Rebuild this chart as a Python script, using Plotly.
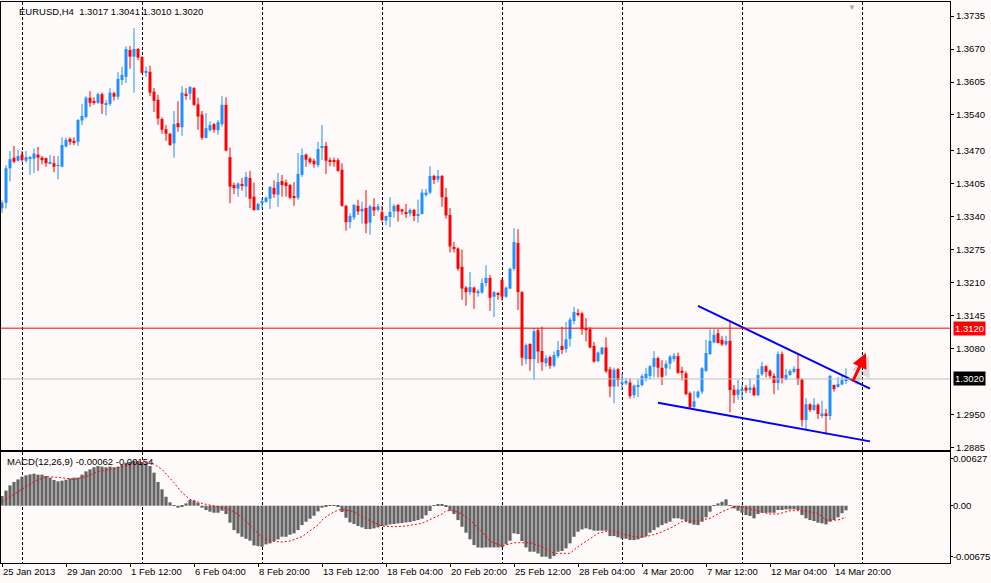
import plotly.graph_objects as go

# EURUSD H4 bars, 25 Jan 2013 04:00 .. 15 Mar 2013
open_ = [
    1.3356, 1.3367, 1.3435, 1.3456, 1.3450, 1.3462, 1.3450, 1.3454, 1.3454, 1.3462,
    1.3456, 1.3455, 1.3445, 1.3445, 1.3440, 1.3438, 1.3478, 1.3493, 1.3489, 1.3487,
    1.3529, 1.3536, 1.3574, 1.3566, 1.3564, 1.3581, 1.3561, 1.3562, 1.3583, 1.3576,
    1.3609, 1.3615, 1.3668, 1.3655, 1.3670, 1.3654, 1.3623, 1.3625, 1.3586, 1.3570,
    1.3532, 1.3512, 1.3503, 1.3484, 1.3524, 1.3516, 1.3582, 1.3582, 1.3593, 1.3561,
    1.3541, 1.3495, 1.3510, 1.3522, 1.3510, 1.3522, 1.3560, 1.3457, 1.3402, 1.3395,
    1.3404, 1.3399, 1.3416, 1.3379, 1.3353, 1.3367, 1.3369, 1.3375, 1.3396, 1.3383,
    1.3410, 1.3407, 1.3402, 1.3380, 1.3377, 1.3422, 1.3462, 1.3454, 1.3450, 1.3441,
    1.3475, 1.3479, 1.3451, 1.3451, 1.3451, 1.3432, 1.3361, 1.3329, 1.3338, 1.3361,
    1.3350, 1.3357, 1.3328, 1.3359, 1.3353, 1.3348, 1.3332, 1.3339, 1.3350, 1.3363,
    1.3354, 1.3349, 1.3346, 1.3353, 1.3341, 1.3345, 1.3384, 1.3387, 1.3420, 1.3413,
    1.3420, 1.3378, 1.3343, 1.3279, 1.3277, 1.3241, 1.3200, 1.3191, 1.3200, 1.3189,
    1.3190, 1.3209, 1.3219, 1.3182, 1.3189, 1.3215, 1.3182, 1.3198, 1.3237, 1.3288,
    1.3191, 1.3059, 1.3089, 1.3059, 1.3116, 1.3075, 1.3051, 1.3063, 1.3046, 1.3065,
    1.3085, 1.3079, 1.3099, 1.3134, 1.3149, 1.3149, 1.3120, 1.3118, 1.3085, 1.3055,
    1.3069, 1.3082, 1.3039, 1.3005, 1.3039, 1.3011, 1.3011, 1.3013, 1.2988, 1.3006,
    1.3008, 1.3021, 1.3026, 1.3044, 1.3061, 1.3042, 1.3041, 1.3050, 1.3059, 1.3065,
    1.3036, 1.3031, 1.2992, 1.2965, 1.2984, 1.2995, 1.3036, 1.3069, 1.3092, 1.3110,
    1.3097, 1.3088, 1.3095, 1.2999, 1.2989, 1.2997, 1.3003, 1.2998, 1.3003, 1.2988,
    1.3029, 1.3045, 1.3036, 1.3026, 1.3012, 1.3069, 1.3019, 1.3028, 1.3034, 1.3040,
    1.3019, 1.2939, 1.2970, 1.2959, 1.2969, 1.2947, 1.2952, 1.2947, 1.3008, 1.3004,
    1.3009, 1.3017,
]
high = [
    1.3372, 1.3441, 1.3469, 1.3479, 1.3471, 1.3469, 1.3469, 1.3459, 1.3474, 1.3477,
    1.3459, 1.3456, 1.3461, 1.3459, 1.3459, 1.3496, 1.3496, 1.3496, 1.3496, 1.3532,
    1.3562, 1.3577, 1.3587, 1.3575, 1.3584, 1.3584, 1.3570, 1.3593, 1.3586, 1.3625,
    1.3635, 1.3675, 1.3676, 1.3711, 1.3672, 1.3656, 1.3635, 1.3637, 1.3593, 1.3580,
    1.3535, 1.3520, 1.3505, 1.3548, 1.3567, 1.3597, 1.3593, 1.3597, 1.3595, 1.3574,
    1.3548, 1.3544, 1.3527, 1.3524, 1.3530, 1.3577, 1.3575, 1.3476, 1.3407, 1.3407,
    1.3416, 1.3428, 1.3430, 1.3407, 1.3367, 1.3376, 1.3379, 1.3400, 1.3411, 1.3426,
    1.3422, 1.3413, 1.3404, 1.3408, 1.3465, 1.3474, 1.3464, 1.3457, 1.3454, 1.3487,
    1.3520, 1.3487, 1.3456, 1.3456, 1.3455, 1.3445, 1.3363, 1.3346, 1.3364, 1.3373,
    1.3369, 1.3392, 1.3363, 1.3376, 1.3365, 1.3361, 1.3342, 1.3378, 1.3365, 1.3364,
    1.3355, 1.3365, 1.3356, 1.3355, 1.3373, 1.3394, 1.3394, 1.3439, 1.3422, 1.3432,
    1.3422, 1.3396, 1.3357, 1.3290, 1.3279, 1.3275, 1.3203, 1.3231, 1.3202, 1.3197,
    1.3218, 1.3244, 1.3225, 1.3193, 1.3191, 1.3218, 1.3202, 1.3239, 1.3317, 1.3315,
    1.3193, 1.3090, 1.3090, 1.3120, 1.3120, 1.3123, 1.3067, 1.3066, 1.3074, 1.3095,
    1.3123, 1.3132, 1.3141, 1.3162, 1.3158, 1.3152, 1.3140, 1.3122, 1.3093, 1.3074,
    1.3083, 1.3102, 1.3044, 1.3042, 1.3042, 1.3031, 1.3022, 1.3021, 1.3009, 1.3019,
    1.3029, 1.3042, 1.3047, 1.3075, 1.3064, 1.3057, 1.3056, 1.3067, 1.3071, 1.3072,
    1.3044, 1.3035, 1.2995, 1.2996, 1.2997, 1.3043, 1.3097, 1.3118, 1.3118, 1.3118,
    1.3105, 1.3105, 1.3136, 1.3008, 1.3018, 1.3008, 1.3008, 1.3021, 1.3009, 1.3040,
    1.3054, 1.3047, 1.3039, 1.3031, 1.3074, 1.3074, 1.3040, 1.3039, 1.3045, 1.3071,
    1.3021, 1.2982, 1.2972, 1.2982, 1.2972, 1.2977, 1.2961, 1.3028, 1.3009, 1.3024,
    1.3026, 1.3041,
]
low = [
    1.3347, 1.3356, 1.3409, 1.3445, 1.3448, 1.3448, 1.3446, 1.3422, 1.3426, 1.3430,
    1.3443, 1.3438, 1.3443, 1.3427, 1.3413, 1.3437, 1.3476, 1.3481, 1.3481, 1.3479,
    1.3520, 1.3533, 1.3556, 1.3560, 1.3562, 1.3542, 1.3539, 1.3558, 1.3568, 1.3570,
    1.3599, 1.3603, 1.3631, 1.3584, 1.3648, 1.3622, 1.3615, 1.3577, 1.3546, 1.3521,
    1.3503, 1.3489, 1.3479, 1.3456, 1.3507, 1.3499, 1.3570, 1.3570, 1.3558, 1.3511,
    1.3491, 1.3494, 1.3507, 1.3505, 1.3501, 1.3517, 1.3468, 1.3366, 1.3384, 1.3379,
    1.3391, 1.3378, 1.3357, 1.3351, 1.3352, 1.3356, 1.3367, 1.3355, 1.3377, 1.3359,
    1.3379, 1.3379, 1.3374, 1.3361, 1.3373, 1.3418, 1.3438, 1.3443, 1.3436, 1.3437,
    1.3451, 1.3424, 1.3439, 1.3438, 1.3428, 1.3359, 1.3312, 1.3317, 1.3333, 1.3343,
    1.3326, 1.3307, 1.3304, 1.3341, 1.3350, 1.3330, 1.3323, 1.3319, 1.3338, 1.3330,
    1.3344, 1.3337, 1.3340, 1.3331, 1.3328, 1.3344, 1.3379, 1.3384, 1.3404, 1.3407,
    1.3359, 1.3336, 1.3269, 1.3269, 1.3233, 1.3176, 1.3164, 1.3185, 1.3158, 1.3182,
    1.3188, 1.3202, 1.3154, 1.3142, 1.3176, 1.3174, 1.3180, 1.3197, 1.3233, 1.3156,
    1.3046, 1.3049, 1.3036, 1.3018, 1.3051, 1.3036, 1.3044, 1.3040, 1.3043, 1.3061,
    1.3069, 1.3072, 1.3084, 1.3128, 1.3143, 1.3107, 1.3094, 1.3080, 1.3052, 1.3053,
    1.3067, 1.3032, 1.2984, 1.2972, 1.3005, 1.2998, 1.3008, 1.2981, 1.2982, 1.2984,
    1.3005, 1.3015, 1.3019, 1.3023, 1.3023, 1.3008, 1.3026, 1.3039, 1.3054, 1.3030,
    1.3017, 1.2988, 1.2961, 1.2963, 1.2982, 1.2990, 1.3034, 1.3067, 1.3090, 1.3090,
    1.3085, 1.3085, 1.2954, 1.2972, 1.2979, 1.2979, 1.2992, 1.2992, 1.2986, 1.2986,
    1.3026, 1.3023, 1.3021, 1.2990, 1.2998, 1.3011, 1.3017, 1.3026, 1.3031, 1.3008,
    1.2926, 1.2919, 1.2955, 1.2957, 1.2941, 1.2943, 1.2910, 1.2939, 1.2995, 1.3003,
    1.3008, 1.3010,
]
close = [
    1.3367, 1.3435, 1.3453, 1.3448, 1.3459, 1.3451, 1.3457, 1.3456, 1.3464, 1.3456,
    1.3451, 1.3445, 1.3447, 1.3438, 1.3441, 1.3481, 1.3491, 1.3487, 1.3486, 1.3530,
    1.3538, 1.3574, 1.3564, 1.3564, 1.3581, 1.3562, 1.3562, 1.3584, 1.3576, 1.3611,
    1.3619, 1.3670, 1.3655, 1.3670, 1.3653, 1.3623, 1.3627, 1.3584, 1.3568, 1.3533,
    1.3511, 1.3503, 1.3481, 1.3522, 1.3516, 1.3584, 1.3579, 1.3595, 1.3560, 1.3537,
    1.3495, 1.3514, 1.3520, 1.3511, 1.3526, 1.3560, 1.3470, 1.3399, 1.3396, 1.3405,
    1.3400, 1.3418, 1.3375, 1.3353, 1.3365, 1.3370, 1.3377, 1.3398, 1.3384, 1.3408,
    1.3402, 1.3400, 1.3377, 1.3377, 1.3424, 1.3461, 1.3452, 1.3447, 1.3443, 1.3473,
    1.3479, 1.3450, 1.3448, 1.3449, 1.3430, 1.3361, 1.3329, 1.3341, 1.3363, 1.3350,
    1.3355, 1.3326, 1.3360, 1.3352, 1.3360, 1.3333, 1.3341, 1.3349, 1.3361, 1.3350,
    1.3350, 1.3346, 1.3353, 1.3341, 1.3345, 1.3387, 1.3387, 1.3420, 1.3412, 1.3420,
    1.3378, 1.3342, 1.3281, 1.3276, 1.3237, 1.3198, 1.3191, 1.3201, 1.3190, 1.3193,
    1.3209, 1.3219, 1.3180, 1.3191, 1.3186, 1.3182, 1.3200, 1.3237, 1.3290, 1.3191,
    1.3062, 1.3087, 1.3059, 1.3114, 1.3074, 1.3053, 1.3061, 1.3046, 1.3067, 1.3077,
    1.3077, 1.3098, 1.3137, 1.3152, 1.3146, 1.3118, 1.3116, 1.3082, 1.3054, 1.3072,
    1.3082, 1.3035, 1.3005, 1.3038, 1.3018, 1.3012, 1.3016, 1.2986, 1.3007, 1.3008,
    1.3026, 1.3030, 1.3045, 1.3061, 1.3042, 1.3024, 1.3050, 1.3064, 1.3066, 1.3032,
    1.3032, 1.2990, 1.2964, 1.2976, 1.2995, 1.3041, 1.3071, 1.3095, 1.3107, 1.3091,
    1.3088, 1.3095, 1.2998, 1.2988, 1.2999, 1.3000, 1.2997, 1.3003, 1.2988, 1.3028,
    1.3045, 1.3034, 1.3026, 1.3012, 1.3069, 1.3021, 1.3028, 1.3036, 1.3040, 1.3019,
    1.2939, 1.2970, 1.2959, 1.2969, 1.2951, 1.2952, 1.2947, 1.3026, 1.3000, 1.3010,
    1.3018, 1.3020,
]

# MACD(12,26,9) main line (histogram) and signal line (sampled where read)
macd_hist = [
    0.00129, 0.00201, 0.00272, 0.00317, 0.00352, 0.00388, 0.00406, 0.00419, 0.00428, 0.00415,
    0.00415, 0.00397, 0.00375, 0.00343, 0.00326, 0.00335, 0.00348, 0.00366, 0.00375, 0.00375,
    0.00415, 0.00459, 0.00486, 0.00513, 0.00531, 0.00522, 0.00513, 0.00522, 0.00513, 0.00522,
    0.00549, 0.00575, 0.00584, 0.00602, 0.00598, 0.00584, 0.00566, 0.00531, 0.00442, 0.00317,
    0.00219, 0.00120, 0.00045, 0.00009, -0.00027, -0.00009, 0.00031, 0.00076, 0.00067, 0.00040,
    -0.00027, -0.00058, -0.00080, -0.00094, -0.00094, -0.00067, -0.00112, -0.00227, -0.00326, -0.00370,
    -0.00415, -0.00442, -0.00468, -0.00531, -0.00540, -0.00549, -0.00517, -0.00504, -0.00473, -0.00450,
    -0.00415, -0.00415, -0.00388, -0.00370, -0.00326, -0.00259, -0.00214, -0.00174, -0.00134, -0.00076,
    -0.00027, -0.00009, 0.00004, 0.00009, -0.00009, -0.00085, -0.00161, -0.00223, -0.00245, -0.00272,
    -0.00290, -0.00312, -0.00312, -0.00303, -0.00290, -0.00272, -0.00263, -0.00250, -0.00245, -0.00236,
    -0.00232, -0.00223, -0.00218, -0.00205, -0.00192, -0.00174, -0.00129, -0.00071, -0.00004, 0.00018,
    0.00018, -0.00013, -0.00067, -0.00112, -0.00192, -0.00281, -0.00361, -0.00450, -0.00526, -0.00558,
    -0.00562, -0.00558, -0.00558, -0.00558, -0.00558, -0.00558, -0.00517, -0.00468, -0.00370, -0.00379,
    -0.00473, -0.00558, -0.00615, -0.00615, -0.00638, -0.00682, -0.00682, -0.00709, -0.00673, -0.00615,
    -0.00606, -0.00570, -0.00504, -0.00415, -0.00348, -0.00317, -0.00303, -0.00317, -0.00334, -0.00334,
    -0.00334, -0.00334, -0.00406, -0.00406, -0.00423, -0.00442, -0.00442, -0.00459, -0.00459, -0.00450,
    -0.00428, -0.00406, -0.00361, -0.00326, -0.00290, -0.00259, -0.00236, -0.00214, -0.00169, -0.00169,
    -0.00183, -0.00205, -0.00236, -0.00254, -0.00259, -0.00214, -0.00156, -0.00080, -0.00004, 0.00031,
    0.00053, 0.00085, 0.00009, -0.00036, -0.00067, -0.00094, -0.00125, -0.00138, -0.00169, -0.00112,
    -0.00094, -0.00094, -0.00094, -0.00094, -0.00058, -0.00058, -0.00049, -0.00049, -0.00049, -0.00058,
    -0.00125, -0.00169, -0.00192, -0.00205, -0.00227, -0.00236, -0.00250, -0.00214, -0.00192, -0.00156,
    -0.00100, -0.00062,
]
signal_index = [
    0, 4, 8, 11, 14, 18, 21, 24, 28, 31, 34, 37, 40, 43, 45, 47, 50, 53, 56, 58,
    60, 63, 65, 67, 70, 72, 75, 77, 79, 80, 82, 84, 85, 88, 90, 93, 95, 98, 101, 105,
    107, 110, 111, 113, 115, 117, 120, 122, 125, 128, 132, 135, 138, 142, 144, 147, 149, 152, 155, 159,
    161, 164, 167, 170, 174, 177, 180, 183, 185, 189, 192, 194, 197, 200, 204, 206, 209, 211,
]
signal_value = [
    0.00053, 0.00187, 0.00321, 0.00388, 0.00379, 0.00352, 0.00388, 0.00455, 0.00499, 0.00530,
    0.00566, 0.00588, 0.00486, 0.00307, 0.00174, 0.00085, 0.00031, -0.00004, -0.00036, -0.00080,
    -0.00160, -0.00316, -0.00423, -0.00472, -0.00486, -0.00472, -0.00414, -0.00334, -0.00258, -0.00192,
    -0.00111, -0.00058, -0.00049, -0.00080, -0.00147, -0.00227, -0.00272, -0.00281, -0.00272, -0.00236,
    -0.00183, -0.00111, -0.00067, -0.00067, -0.00111, -0.00192, -0.00348, -0.00475, -0.00539, -0.00495,
    -0.00495, -0.00548, -0.00637, -0.00637, -0.00548, -0.00437, -0.00370, -0.00334, -0.00379, -0.00423,
    -0.00414, -0.00370, -0.00303, -0.00214, -0.00201, -0.00169, -0.00080, -0.00013, -0.00013, -0.00071,
    -0.00111, -0.00111, -0.00067, -0.00067, -0.00102, -0.00192, -0.00192, -0.00154,
]

time_label_index = [0, 16, 32, 48, 64, 80, 96, 112, 128, 144, 160, 176, 192, 208]
time_labels = [
    '25 Jan 2013', '29 Jan 20:00', '1 Feb 12:00', '6 Feb 04:00', '8 Feb 20:00',
    '13 Feb 12:00', '18 Feb 04:00', '20 Feb 20:00', '25 Feb 12:00', '28 Feb 04:00',
    '4 Mar 20:00', '7 Mar 12:00', '12 Mar 04:00', '14 Mar 20:00',
]
grid_index = [5, 35, 65, 95, 125, 155, 185, 215]
price_ticks = [1.3735, 1.3670, 1.3605, 1.3540, 1.3470, 1.3405, 1.3340, 1.3275,
               1.3210, 1.3145, 1.3080, 1.2950, 1.2885]
macd_ticks = [0.00627, 0.0, -0.00675]
macd_tick_text = ['0.00627', '0.00', '-0.00675']

upper_trend_index = [174, 217]
upper_trend_price = [1.3164, 1.3001]
lower_trend_index = [164, 217]
lower_trend_price = [1.2973, 1.2897]
resistance_level = 1.3120
bid_level = 1.3020
arrow_tail = (212.5, 1.3012)
arrow_head = (216.0, 1.3071)

BULL = '#1E90FF'
BEAR = '#FF0000'
BG = '#FFFAFA'
FONT = 'Liberation Sans'
FS = 9.5

n = len(open_)
idx = list(range(n))
colors = [BULL if close[i] >= open_[i] else BEAR for i in idx]

# bodies as floating bars, a doji still gets a hairline
body_base, body_height = [], []
for i in idx:
    lo, hi = min(open_[i], close[i]), max(open_[i], close[i])
    if hi - lo < 0.00012:
        mid = (hi + lo) / 2
        lo, hi = mid - 0.00006, mid + 0.00006
    body_base.append(lo)
    body_height.append(hi - lo)

fig = go.Figure()

for col in (BULL, BEAR):
    wx, wy = [], []
    for i in idx:
        if colors[i] == col:
            wx += [i, i, None]
            wy += [low[i], high[i], None]
    fig.add_trace(go.Scatter(x=wx, y=wy, mode='lines', line=dict(color=col, width=1),
                             hoverinfo='skip', showlegend=False))

fig.add_trace(go.Bar(x=idx, y=body_height, base=body_base, width=0.74,
                     marker=dict(color=colors, line=dict(width=0)), showlegend=False))

fig.add_trace(go.Bar(x=idx, y=macd_hist, width=0.8, xaxis='x2', yaxis='y2',
                     marker=dict(color='#646464', line=dict(width=0)), showlegend=False))
fig.add_trace(go.Scatter(x=signal_index, y=signal_value, mode='lines', xaxis='x2', yaxis='y2',
                         line=dict(color='#FF0000', width=1, dash='2px,2px'), showlegend=False))

# trend lines
fig.add_trace(go.Scatter(x=upper_trend_index, y=upper_trend_price, mode='lines',
                         line=dict(color='#0000FF', width=2), showlegend=False))
fig.add_trace(go.Scatter(x=lower_trend_index, y=lower_trend_price, mode='lines',
                         line=dict(color='#0000FF', width=2), showlegend=False))

x_range = [-0.25, 237]
grid = dict(tickvals=grid_index, showgrid=True, gridcolor='#000000', gridwidth=1,
            griddash='3px,2px', ticks='')
axis_line = dict(showline=True, linecolor='#000000', linewidth=1, mirror=True, zeroline=False)

fig.update_layout(
    width=991, height=583,
    margin=dict(l=1, r=41, t=2, b=20),
    paper_bgcolor=BG, plot_bgcolor=BG,
    barmode='overlay', showlegend=False,
    font=dict(family=FONT, size=FS, color='#000000'),
    xaxis=dict(domain=[0, 1], anchor='y', range=x_range, showticklabels=False,
               tickvals=[], showgrid=False, minor=grid, **axis_line),
    yaxis=dict(domain=[113 / 561, 1], anchor='x', side='right',
               range=[1.28800, 1.37626], tickvals=price_ticks,
               ticktext=[f'{v:.4f}' for v in price_ticks],
               ticks='outside', ticklen=3, tickcolor='#000000', showgrid=False,
               tickfont=dict(size=FS), automargin=False, **axis_line),
    xaxis2=dict(domain=[0, 1], anchor='y2', range=x_range, matches='x',
                tickvals=time_label_index, ticktext=time_labels, tickangle=0,
                ticks='outside', ticklen=3, tickcolor='#000000',
                ticklabelposition='outside right', tickfont=dict(size=FS),
                showgrid=False, minor=grid, automargin=False, **axis_line),
    yaxis2=dict(domain=[0, 111 / 561], anchor='x2', side='right',
                range=[-0.00766, 0.00718], tickvals=macd_ticks, ticktext=macd_tick_text,
                ticks='outside', ticklen=2, tickcolor='#000000', showgrid=False,
                ticklabelstandoff=-2, tickfont=dict(size=FS), automargin=False, **axis_line),
)

fig.add_hline(y=bid_level, line=dict(color='#C0C0C0', width=1), xref='x', yref='y')
fig.add_hline(y=resistance_level, line=dict(color='#FF0000', width=1), xref='x', yref='y')

fig.add_annotation(x=1, xref='paper', y=resistance_level, yref='y', text='1.3120',
                   xanchor='left', xshift=3, showarrow=False, bgcolor='#FF0000',
                   font=dict(color='#FFFFFF', size=FS), borderpad=1)
fig.add_annotation(x=1, xref='paper', y=bid_level, yref='y', text='1.3020',
                   xanchor='left', xshift=3, showarrow=False, bgcolor='#000000',
                   font=dict(color='#FFFFFF', size=FS), borderpad=1)

fig.add_annotation(x=0, xref='paper', y=1, yref='y domain', xshift=16, yshift=-9,
                   xanchor='left', yanchor='middle', showarrow=False,
                   text='EURUSD,H4\u00a0\u00a01.3017 1.3041 1.3010 1.3020', font=dict(size=FS))
fig.add_annotation(x=0, xref='paper', y=1, yref='y2 domain', xshift=4, yshift=-9,
                   xanchor='left', yanchor='middle', showarrow=False,
                   text='MACD(12,26,9) -0.00062 -0.00154', font=dict(size=FS))
fig.add_annotation(x=212.5, xref='x', y=1, yref='y domain', yanchor='top', yshift=1,
                   showarrow=False, text='\u25bc', font=dict(size=8, color='#A8A8A8'))

# red arrow with a soft shadow
for col, dx, dy, w in (('rgba(0,0,0,0.12)', 3, -3, 4), ('#FF0000', 0, 0, 3)):
    fig.add_annotation(x=arrow_head[0], y=arrow_head[1], ax=arrow_tail[0], ay=arrow_tail[1],
                       xref='x', yref='y', axref='x', ayref='y', text='', showarrow=True,
                       arrowhead=2, arrowsize=1, arrowwidth=w, arrowcolor=col,
                       xshift=dx, yshift=dy)

# the page body has a default 8px margin; drop it so the figure sits at the window origin
fig.write_html("out.html", config={'displayModeBar': False},
               post_script="document.body.style.margin='0';")
